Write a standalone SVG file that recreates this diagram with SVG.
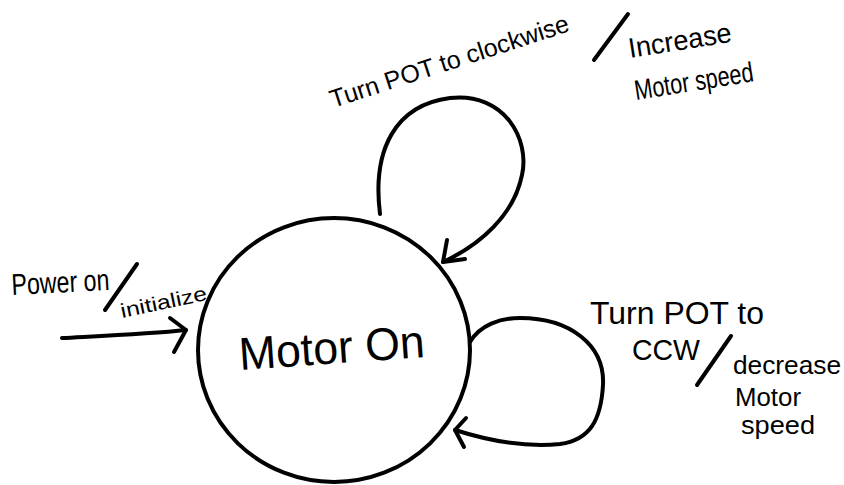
<svg xmlns="http://www.w3.org/2000/svg" width="844" height="485" viewBox="0 0 844 485">
<style>
.s{fill:none;stroke:#000;stroke-width:4;stroke-linecap:round;stroke-linejoin:round}
.t{font-family:"Liberation Sans",Arial,sans-serif;fill:#000}
</style>
<rect width="844" height="485" fill="#fff"/>
<g id="node-motor-on">
<ellipse class="s" cx="334" cy="350" rx="136" ry="132"/>
<text class="t" x="240" y="370" font-size="46" textLength="186" lengthAdjust="spacingAndGlyphs" transform="rotate(-4 240 370)">Motor On</text>
</g>
<g id="connectors">
<path class="s" d="M62 338 C100 336 150 334 186 330"/>
<path class="s" d="M170 318 L186 330 L174 352"/>
<path class="s" d="M380 214 C372 150 395 105 450 98 C505 92 530 140 522 175 C514 215 480 245 443 262"/>
<path class="s" d="M447 240 L443 262 L465 259"/>
<path class="s" d="M470 342 C480 325 500 318 520 318 C570 318 605 345 603 385 C601 420 590 440 560 444 C520 448 480 438 455 430"/>
<path class="s" d="M466 418 L455 430 L464 447"/>
</g>
<g id="label-init">
<text class="t" x="12" y="295" font-size="30" textLength="98" lengthAdjust="spacingAndGlyphs" transform="rotate(-3 12 295)">Power on</text>
<path class="s" d="M105 310 L137 264"/>
<text class="t" x="122" y="318" font-size="20" textLength="88" lengthAdjust="spacingAndGlyphs" transform="rotate(-12 122 318)">initialize</text>
</g>
<g id="label-cw">
<text class="t" x="333" y="108" font-size="25" transform="rotate(-18 333 108)">Turn POT to clockwise</text>
<path class="s" d="M594 60 L628 14"/>
<text class="t" x="630" y="58" font-size="28" textLength="104" lengthAdjust="spacingAndGlyphs" transform="rotate(-9 630 58)">Increase</text>
<text class="t" x="636" y="100" font-size="28" textLength="120" lengthAdjust="spacingAndGlyphs" transform="rotate(-9 636 100)">Motor speed</text>
</g>
<g id="label-ccw">
<text class="t" x="590" y="324" font-size="32" textLength="174" lengthAdjust="spacingAndGlyphs">Turn POT to</text>
<text class="t" x="632" y="360" font-size="30" textLength="68" lengthAdjust="spacingAndGlyphs">CCW</text>
<path class="s" d="M697 385 L731 336"/>
<text class="t" x="733" y="374" font-size="26" textLength="108" lengthAdjust="spacingAndGlyphs">decrease</text>
<text class="t" x="735" y="406" font-size="26" textLength="66" lengthAdjust="spacingAndGlyphs">Motor</text>
<text class="t" x="741" y="434" font-size="26" textLength="74" lengthAdjust="spacingAndGlyphs">speed</text>
</g>
</svg>
